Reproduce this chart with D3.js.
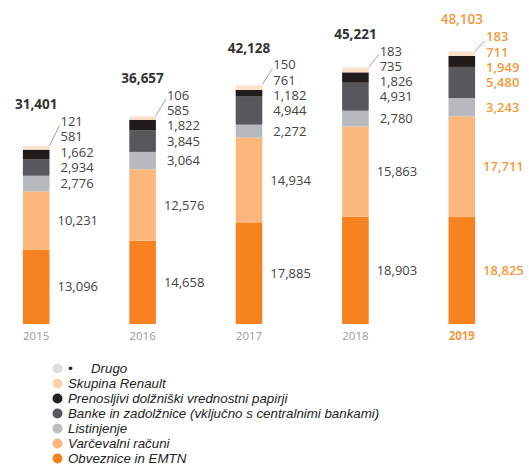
<!DOCTYPE html>
<html>
<head>
<meta charset="utf-8">
<script src="https://cdn.jsdelivr.net/npm/d3@7"></script>
<style>
  html, body { margin: 0; padding: 0; background: #fff; }
  svg { display: block; }
</style>
</head>
<body>
<svg id="chart" width="529" height="466"></svg>
<script>
// Funding structure by year (stack order, bottom to top)
const years = ["2015", "2016", "2017", "2018", "2019"];
const seriesNames = [
  "Obveznice in EMTN",
  "Varčevalni računi",
  "Listinjenje",
  "Banke in zadolžnice (vključno s centralnimi bankami)",
  "Prenosljivi dolžniški vrednostni papirji",
  "Skupina Renault",
  "Drugo"
];
const obveznice   = [13096, 14658, 17885, 18903, 18825];
const varcevalni  = [10231, 12576, 14934, 15863, 17711];
const listinjenje = [2776, 3064, 2272, 2780, 3243];
const banke       = [2934, 3845, 4944, 4931, 5480];
const prenosljivi = [1662, 1822, 1182, 1826, 1949];
const renault     = [581, 585, 761, 735, 711];
const drugo       = [121, 106, 150, 183, 183];
const totals      = [31401, 36657, 42128, 45221, 48103];
const highlightYear = "2019";

const seriesValues = [obveznice, varcevalni, listinjenje, banke, prenosljivi, renault, drugo];
const colors = ["#f68220", "#fdb77d", "#b7b9bd", "#58585a", "#201c1b", "#fde2c8", "#ececec"];
const legendColors = ["#f68220", "#fdb77d", "#bdbdbf", "#5a5a5c", "#222", "#fcd2ad", "#dedede"];

const rows = years.map((y, i) => {
  const r = { year: y };
  seriesNames.forEach((s, k) => { r[s] = seriesValues[k][i]; });
  return r;
});

const svg = d3.select("#chart");

const x = d3.scaleBand().domain(years).range([-17, 515]).paddingInner(0.75).paddingOuter(0.375);
const y = d3.scaleLinear().domain([0, 50000]).range([324, 40]);

const stacked = d3.stack().keys(seriesNames)(rows);

// bars
const layers = svg.append("g").selectAll("g")
  .data(stacked).join("g")
  .attr("fill", (d, i) => colors[i]);

layers.selectAll("rect")
  .data(d => d).join("rect")
  .attr("x", d => x(d.data.year))
  .attr("width", x.bandwidth())
  .attr("y", d => y(d[1]))
  .attr("height", d => y(d[0]) - y(d[1]));

const fmt = d3.format(",");
const labelFont = "'Open Sans', sans-serif";
const listGap = 15.3;      // spacing of the callout list for the thin top layers
const firstThin = 4;       // layers from this index up are listed above one another

years.forEach((yr, i) => {
  const hi = yr === highlightYear;
  const textColor = hi ? "#f39a3e" : "#444";
  const bx = x(yr) + x.bandwidth();

  // thick layers: label at segment centre; thin layers: stacked list above
  let prev = Infinity;
  const ys = stacked.map((layer, k) => {
    const seg = layer[i];
    const cy = k < firstThin ? (y(seg[0]) + y(seg[1])) / 2 : prev - listGap;
    prev = cy;
    return cy;
  });

  const g = svg.append("g");
  stacked.forEach((layer, k) => {
    g.append("text")
      .attr("x", bx + (k < 2 ? 8 : 11))
      .attr("y", ys[k])
      .attr("dy", "0.36em")
      .attr("font-family", labelFont)
      .attr("font-size", 13)
      .attr("font-weight", hi ? 600 : 400)
      .attr("fill", textColor)
      .text(fmt(seriesValues[k][i]));
  });

  // leader line from bar top to the callout list
  const topY = ys[ys.length - 1];
  g.append("line")
    .attr("x1", bx)
    .attr("y1", y(totals[i]))
    .attr("x2", bx + 10)
    .attr("y2", topY + 4)
    .attr("stroke", "#8a8a8a")
    .attr("stroke-width", 0.8);

  // total above the stack
  g.append("text")
    .attr("x", x(yr) + x.bandwidth() / 2)
    .attr("y", topY - 17)
    .attr("dy", "0.36em")
    .attr("text-anchor", "middle")
    .attr("font-family", labelFont)
    .attr("font-size", 13.5)
    .attr("font-weight", hi ? 600 : 700)
    .attr("fill", hi ? "#f39a3e" : "#333")
    .text(fmt(totals[i]));
});

// year axis labels
const axis = d3.axisBottom(x).tickSize(0).tickPadding(0);
const ax = svg.append("g").attr("transform", "translate(0,332)").call(axis);
ax.select(".domain").remove();
ax.selectAll("text")
  .attr("font-family", labelFont)
  .attr("font-size", 11.5)
  .attr("fill", d => d === highlightYear ? "#f39a3e" : "#9a9a9a")
  .attr("font-weight", d => d === highlightYear ? 700 : 400);

// legend, top of stack first
const legendItems = seriesNames.map((s, k) => ({ name: s, color: legendColors[k] })).reverse();
const legend = svg.append("g").attr("transform", "translate(0,368.5)");
const item = legend.selectAll("g").data(legendItems).join("g")
  .attr("transform", (d, i) => `translate(0,${i * 15})`);

item.append("circle")
  .attr("cx", 57.5)
  .attr("cy", 0)
  .attr("r", 5)
  .attr("fill", d => d.color);

item.append("text")
  .attr("x", 68)
  .attr("dy", "0.35em")
  .attr("font-family", "'Liberation Sans', Arial, sans-serif")
  .attr("font-style", "italic")
  .attr("font-size", 13.3)
  .attr("fill", "#222")
  .each(function (d) {
    const t = d3.select(this);
    if (d.name === "Drugo") {
      t.append("tspan").text("•");
      t.append("tspan").attr("x", 91).text(d.name);
    } else {
      t.text(d.name);
    }
  });
</script>
</body>
</html>
